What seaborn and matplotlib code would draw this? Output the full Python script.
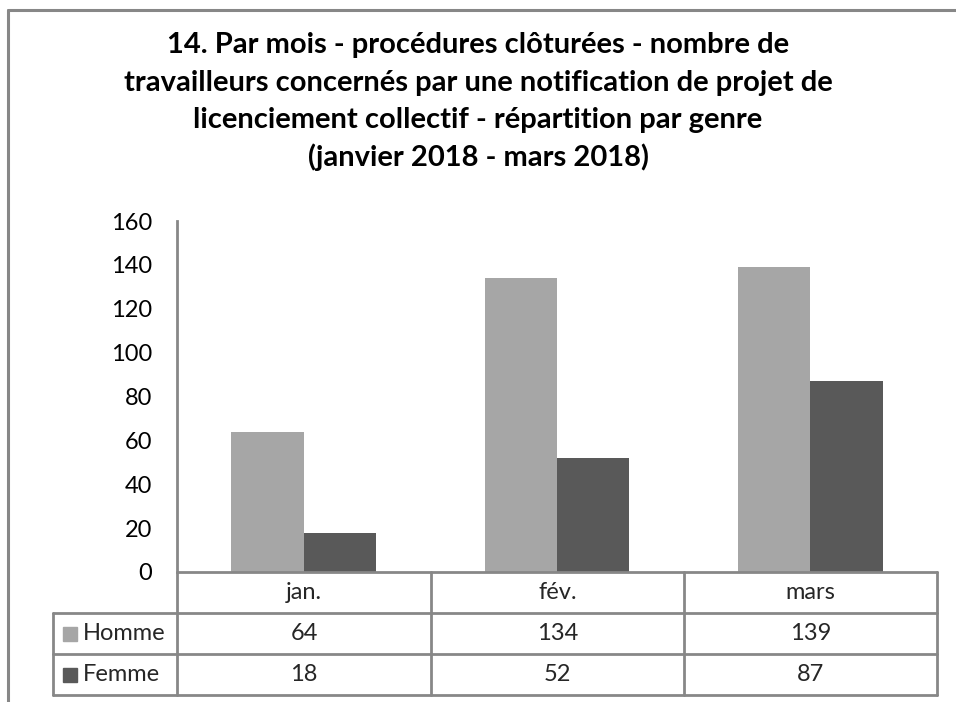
import matplotlib
matplotlib.use("Agg")
import matplotlib.pyplot as plt
from matplotlib.lines import Line2D
from matplotlib.patches import Rectangle
import seaborn as sns
import pandas as pd

# ---- data ----
months = ["jan.", "fév.", "mars"]
series_names = ["Homme", "Femme"]
homme = [64, 134, 139]
femme = [18, 52, 87]
yticks = [0, 20, 40, 60, 80, 100, 120, 140, 160]
title_lines = ["14. Par mois - procédures clôturées - nombre de",
               "travailleurs concernés par une notification de projet de",
               "licenciement collectif - répartition par genre",
               "(janvier 2018 - mars 2018)"]

colors = ["#A6A6A6", "#595959"]
grid_col = "#878787"

sns.set_theme(style="white")
plt.rcParams["font.family"] = ["Lato", "DejaVu Sans"]

W, H = 956, 702
fig = plt.figure(figsize=(W / 100, H / 100), dpi=100)
fx = lambda px: px / W
fy = lambda py: 1 - py / H

# plot area
L, R, T, B = 177, 937, 221, 572
ax = fig.add_axes([fx(L), fy(B), fx(R) - fx(L), fy(T) - fy(B)])

df = pd.DataFrame({
    "mois": months * 2,
    "genre": [series_names[0]] * 3 + [series_names[1]] * 3,
    "valeur": homme + femme,
})
sns.barplot(data=df, x="mois", y="valeur", hue="genre", palette=colors,
            width=0.57, ax=ax, legend=False, saturation=1, edgecolor="none")
ax.set_xlim(-0.5, 2.5)
ax.set_ylim(0, 160)
ax.set_yticks(yticks)
ax.set_yticklabels([str(v) for v in yticks], fontsize=17, color="#000000")
ax.tick_params(axis="y", length=0, pad=18)
ax.set_xticks([])
ax.set_xlabel("")
ax.set_ylabel("")
for s in ["top", "right", "bottom"]:
    ax.spines[s].set_visible(False)
ax.spines["left"].set_color(grid_col)
ax.spines["left"].set_linewidth(2)

# title
title_y = [45, 83, 120, 157]
for line, ty in zip(title_lines, title_y):
    fig.text(fx(478), fy(ty), line, ha="center", va="center", fontsize=21,
             fontweight="bold", color="#000000")

# outer chart border (cropped at right/bottom)
fig.add_artist(Line2D([fx(8), fx(8)], [fy(10), fy(705)], color=grid_col, lw=2.2,
                      transform=fig.transFigure))
fig.add_artist(Line2D([fx(8), fx(960)], [fy(10), fy(10)], color=grid_col, lw=2.2,
                      transform=fig.transFigure))

# data table
col_edges = [177, 431, 684, 937]
row_edges = [572, 613, 654, 695]
legL = 53
def hline(x0, x1, y):
    fig.add_artist(Line2D([fx(x0), fx(x1)], [fy(y), fy(y)], color=grid_col, lw=2,
                          transform=fig.transFigure))
def vline(x, y0, y1):
    fig.add_artist(Line2D([fx(x), fx(x)], [fy(y0), fy(y1)], color=grid_col, lw=2,
                          transform=fig.transFigure))

hline(col_edges[0], col_edges[-1], row_edges[0])
for y in row_edges[1:]:
    hline(legL, col_edges[-1], y)
for x in col_edges:
    vline(x, row_edges[0], row_edges[-1])
vline(legL, row_edges[1], row_edges[-1])

fs = 17
for i, m in enumerate(months):
    cx = (col_edges[i] + col_edges[i + 1]) / 2
    fig.text(fx(cx), fy((row_edges[0] + row_edges[1]) / 2), m, ha="center",
             va="center", fontsize=fs)
series_vals = [homme, femme]
for r, (name, vals) in enumerate(zip(series_names, series_vals)):
    cy = (row_edges[r + 1] + row_edges[r + 2]) / 2
    fig.add_artist(Rectangle((fx(63), fy(cy + 7)), fx(14), 14 / H,
                             color=colors[r], transform=fig.transFigure))
    fig.text(fx(83), fy(cy), name, ha="left", va="center", fontsize=fs)
    for i, v in enumerate(vals):
        cx = (col_edges[i] + col_edges[i + 1]) / 2
        fig.text(fx(cx), fy(cy), str(v), ha="center", va="center", fontsize=fs)

fig.savefig("out.png", dpi=100, facecolor="white")
